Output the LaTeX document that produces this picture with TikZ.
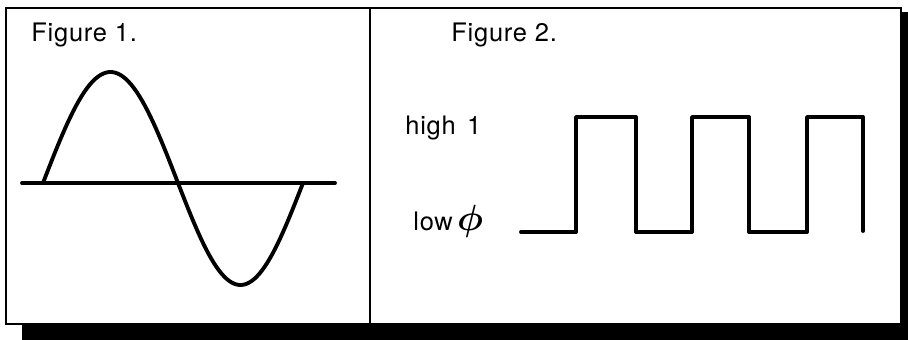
\documentclass[tikz,border=0pt]{standalone}
\usepackage{fontspec}
\setmainfont{TeX Gyre Heros}
\newfontfamily\figfont[LetterSpace=3]{TeX Gyre Heros}
\usetikzlibrary{calc}

\begin{document}
\begin{tikzpicture}[
    x=0.02cm, y=-0.02cm,
    frame/.style={draw, line width=1.3pt},
    shadow/.style={fill=black},
    wave/.style={draw, line width=2.2pt, line join=round, line cap=round},
    label/.style={anchor=base west, inner sep=0pt, font=\fontsize{14.5}{17}\selectfont\figfont, text=black}
]
\useasboundingbox (0,0) rectangle (908,340);

% Outer frame with shadow
\coordinate (tl) at (6,8);
\coordinate (br) at (901,324);
\fill[shadow] (22,324) rectangle (908,340);
\fill[shadow] (901,12) rectangle (908,340);
\draw[frame] (tl) rectangle (br);
\draw[line width=1.1pt] (370,8) -- (370,324);

% Labels
\node[label] (fig1) at (31,42) {Figure 1.};
\node[label] (fig2) at (451,42) {Figure 2.};
\node[label] (high) at (405,135) {high\hspace{0.45em}1};
\node[label] (low) at (413,231) {low\,{\fontsize{21}{24}\selectfont\boldmath$\phi$}};

% Sine wave and axis
\draw[wave] (22,183) -- (335,183);
\draw[wave] plot[domain=0:180, samples=50] ({43+\x/180*135}, {183-111*sin(\x)})
  -- plot[domain=0:180, samples=50] ({178+\x/180*125}, {183+102*sin(\x)});

% Square wave
\draw[wave] (521,232) -- (576,232) -- (576,117) -- (636,117) -- (636,232)
  -- (692,232) -- (692,117) -- (749,117) -- (749,232) -- (807,232)
  -- (807,117) -- (863,117) -- (863,231);
\end{tikzpicture}
\end{document}
